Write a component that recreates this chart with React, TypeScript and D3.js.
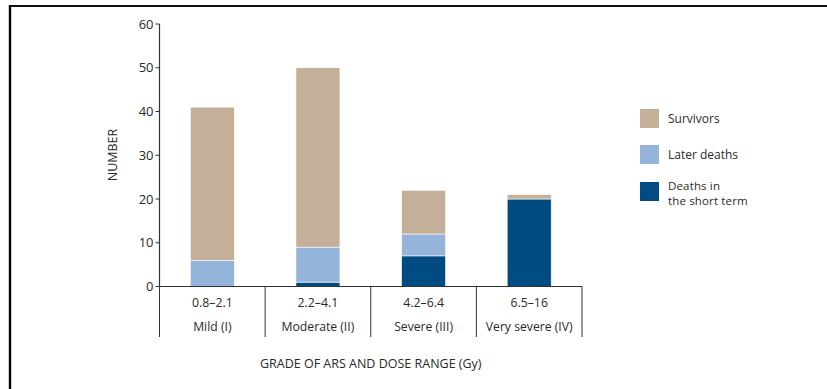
import React from "react";
import * as d3 from "d3";

const doseRanges = ["0.8–2.1", "2.2–4.1", "4.2–6.4", "6.5–16"];
const grades = ["Mild (I)", "Moderate (II)", "Severe (III)", "Very severe (IV)"];
const shortTermDeaths = [0, 1, 7, 20];
const laterDeaths = [6, 8, 5, 0];
const survivors = [35, 41, 10, 1];
const yTicks = [0, 10, 20, 30, 40, 50, 60];
const seriesKeys = ["short", "later", "surv"];
const seriesLabels = [["Survivors"], ["Later deaths"], ["Deaths in", "the short term"]];
const colors: Record<string, string> = { short: "#004b82", later: "#94b4d9", surv: "#c4b098" };

const W = 827, H = 389;
const FONT = "'Open Sans', sans-serif";
const TXT = "#2a2a2a";

export default function App() {
  const x0 = 159.5, x1 = 582, yTop = 24, yBot = 286.5;
  const x = d3.scaleBand<number>().domain(d3.range(doseRanges.length)).range([x0, x1]).paddingInner(0).paddingOuter(0);
  const y = d3.scaleLinear().domain([0, 60]).range([yBot, yTop]);
  const table = doseRanges.map((_, i) => ({ short: shortTermDeaths[i], later: laterDeaths[i], surv: survivors[i] }));
  const stack = d3.stack<any>().keys(seriesKeys)(table);
  const barW = 44;
  const legendKeys = ["surv", "later", "short"];
  const legendY = [109, 145, 182];

  return (
    <svg width={W} height={H} style={{ position: "absolute", left: 0, top: 0, background: "#fff" }} fontFamily={FONT}>
      <line x1={10} x2={W} y1={6} y2={6} stroke="#111" strokeWidth={2.2} />
      <line x1={10} x2={10} y1={5} y2={H} stroke="#000" strokeWidth={2.4} />
      {stack.map((s) => (
        <g key={s.key}>
          {s.map((d, i) => {
            const h = y(d[0]) - y(d[1]);
            if (h <= 0) return null;
            const cx = x(i)! + x.bandwidth() / 2;
            return <rect key={i} x={cx - barW / 2} y={y(d[1])} width={barW} height={h} fill={colors[s.key]} stroke="#fff" strokeWidth={0.6} />;
          })}
        </g>
      ))}
      {/* y axis */}
      <line x1={x0} x2={x0} y1={yTop} y2={yBot} stroke="#333" strokeWidth={1.2} />
      {yTicks.map((t) => (
        <g key={t}>
          <line x1={x0 - 4} x2={x0} y1={y(t)} y2={y(t)} stroke="#333" strokeWidth={1} />
          <text x={x0 - 6} y={y(t)} dy="0.35em" textAnchor="end" fontSize={13} fill={TXT}>{t}</text>
        </g>
      ))}
      {/* x axis */}
      <line x1={x0} x2={x1} y1={yBot} y2={yBot} stroke="#333" strokeWidth={1.2} />
      {d3.range(doseRanges.length + 1).map((i) => {
        const xx = i < doseRanges.length ? x(i)! : x1;
        return <line key={i} x1={xx} x2={xx} y1={yBot} y2={337} stroke="#333" strokeWidth={1} />;
      })}
      {doseRanges.map((d, i) => {
        const cx = x(i)! + x.bandwidth() / 2;
        return (
          <g key={d}>
            <text x={cx} y={303} dy="0.35em" textAnchor="middle" fontSize={12.3} fill={TXT}>{d}</text>
            <text x={cx} y={327} dy="0.35em" textAnchor="middle" fontSize={12.2} fill={TXT}>{grades[i]}</text>
          </g>
        );
      })}
      <text x={(x0 + x1) / 2} y={364} dy="0.35em" textAnchor="middle" fontSize={12.5} fill={TXT}>GRADE OF ARS AND DOSE RANGE (Gy)</text>
      <text transform={`translate(113,155) rotate(-90)`} dy="0.35em" textAnchor="middle" fontSize={12.5} fill={TXT}>NUMBER</text>
      {legendKeys.map((k, i) => {
        const lab = seriesLabels[i];
        return (
          <g key={k}>
            <rect x={640} y={legendY[i]} width={19} height={19} fill={colors[k]} />
            {lab.length === 1 ? (
              <text x={668} y={legendY[i] + 9.5} dy="0.35em" fontSize={12} fill={TXT}>{lab[0]}</text>
            ) : (
              lab.map((l, j) => (
                <text key={j} x={668} y={189.5 + j * 15.8} fontSize={11.5} letterSpacing={0.15} fill={TXT}>{l}</text>
              ))
            )}
          </g>
        );
      })}
    </svg>
  );
}
